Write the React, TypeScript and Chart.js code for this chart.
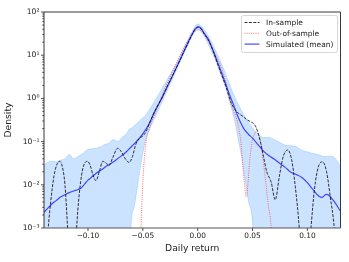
import React, { useEffect, useRef } from "react";
import { Chart, registerables } from "chart.js";

Chart.register(...registerables);

const FAMILY = "'DejaVu Sans', sans-serif";

// Simulated (mean) density
const simX = [
  -0.141, -0.137, -0.133, -0.129, -0.125, -0.121, -0.117, -0.113, -0.109, -0.106,
  -0.103, -0.1, -0.096, -0.092, -0.088, -0.084, -0.08, -0.076, -0.072, -0.068,
  -0.064, -0.06, -0.056, -0.052, -0.048, -0.045, -0.0425, -0.04, -0.036, -0.032,
  -0.028, -0.024, -0.02, -0.016, -0.012, -0.008, -0.005, -0.0025, 0.0005, 0.003,
  0.006, 0.0103, 0.014, 0.018, 0.022, 0.026, 0.03, 0.033, 0.036, 0.039,
  0.042, 0.046, 0.05, 0.055, 0.06, 0.065, 0.07, 0.075, 0.08, 0.085,
  0.09, 0.095, 0.1, 0.105, 0.11, 0.1135, 0.117, 0.12, 0.125, 0.13,
];
const simY = [
  0.0022, 0.0028, 0.0036, 0.0043, 0.0052, 0.0059, 0.0066, 0.0072, 0.0078, 0.0085,
  0.0105, 0.0128, 0.0155, 0.019, 0.022, 0.026, 0.03, 0.035, 0.042, 0.05,
  0.062, 0.078, 0.1, 0.13, 0.18, 0.24, 0.32, 0.45, 0.7, 1.1,
  1.8, 2.9, 4.8, 7.9, 13.2, 21.5, 31, 40, 46, 42,
  32, 22, 13, 7, 3.8, 2.0, 1.05, 0.68, 0.42, 0.28,
  0.2, 0.15, 0.12, 0.085, 0.06, 0.047, 0.039, 0.031, 0.025, 0.0195,
  0.0172, 0.0148, 0.0112, 0.0078, 0.0056, 0.0051, 0.006, 0.0056, 0.0039, 0.0025,
];

// In-sample density
const inX = [
  -0.141, -0.139, -0.1365, -0.134, -0.131, -0.128, -0.126, -0.1235, -0.121, -0.1186,
  -0.1165, -0.1145, -0.1125, -0.1104, -0.108, -0.105, -0.1025, -0.1004, -0.098, -0.0955,
  -0.0927, -0.0895, -0.0865, -0.0835, -0.081, -0.0775, -0.073, -0.0695, -0.066, -0.0625,
  -0.0595, -0.0565, -0.053, -0.05, -0.047, -0.0441, -0.04, -0.036, -0.032, -0.028,
  -0.024, -0.02, -0.016, -0.012, -0.008, -0.005, -0.0025, 0.0005, 0.003, 0.006,
  0.0103, 0.014, 0.018, 0.022, 0.026, 0.03, 0.033, 0.036, 0.039, 0.042,
  0.045, 0.048, 0.051, 0.053, 0.055, 0.0575, 0.06, 0.063, 0.067, 0.0707,
  0.0745, 0.078, 0.082, 0.0855, 0.089, 0.0926, 0.095, 0.098, 0.1005, 0.1033,
  0.1065, 0.11, 0.1139, 0.1175, 0.121, 0.1245, 0.127, 0.13,
];
const inY = [
  0.00001, 0.00006, 0.0008, 0.004, 0.016, 0.031, 0.035, 0.027, 0.01, 0.001,
  0.0001, 0.00001, 0.0001, 0.001, 0.006, 0.022, 0.033, 0.035, 0.028, 0.017,
  0.0125, 0.021, 0.035, 0.032, 0.028, 0.042, 0.07, 0.058, 0.04, 0.033,
  0.045, 0.085, 0.12, 0.135, 0.17, 0.26, 0.45, 0.72, 1.1, 1.85,
  3.0, 4.8, 7.8, 13, 21, 30, 39, 44, 41, 31,
  21, 12.5, 6.5, 3.4, 1.8, 0.85, 0.6, 0.48, 0.42, 0.37,
  0.32, 0.29, 0.26, 0.22, 0.16, 0.09, 0.045, 0.02, 0.0115, 0.0045,
  0.016, 0.045, 0.064, 0.04, 0.009, 0.001, 0.0001, 0.00001, 0.0001, 0.001,
  0.008, 0.026, 0.034, 0.02, 0.005, 0.001, 0.0001, 0.00001,
];

// Out-of-sample density
const outX = [
  -0.056, -0.0535, -0.0517, -0.0505, -0.049, -0.047, -0.0441, -0.0396, -0.035, -0.03,
  -0.025, -0.0213, -0.017, -0.0122, -0.008, -0.004, 0.001, 0.005, 0.0085, 0.0118,
  0.017, 0.0224, 0.026, 0.03, 0.033, 0.036, 0.038, 0.0397, 0.041, 0.0422,
  0.0443, 0.046, 0.0473, 0.049, 0.0504, 0.0525, 0.0543, 0.056, 0.058, 0.061,
  0.064, 0.067, 0.069, 0.071,
];
const outY = [
  0.00001, 0.0001, 0.001, 0.006, 0.03, 0.1, 0.2, 0.4, 0.78, 1.7,
  3.2, 5.2, 8.8, 15.7, 24, 33, 38, 34, 24, 16.5,
  9.5, 4.5, 2.2, 0.8, 0.5, 0.3, 0.17, 0.083, 0.03, 0.014,
  0.0052, 0.012, 0.034, 0.08, 0.12, 0.16, 0.17, 0.14, 0.083, 0.02,
  0.0041, 0.001, 0.0001, 0.00001,
];

// Simulated band (bounds)
const bandX = [
  -0.141, -0.137, -0.133, -0.129, -0.125, -0.121, -0.117, -0.113, -0.109, -0.105,
  -0.101, -0.097, -0.093, -0.089, -0.085, -0.081, -0.077, -0.073, -0.069, -0.065,
  -0.0625, -0.0608, -0.058, -0.055, -0.051, -0.047, -0.044, -0.04, -0.035, -0.03,
  -0.025, -0.02, -0.015, -0.01, -0.005, 0, 0.005, 0.01, 0.015, 0.02,
  0.025, 0.03, 0.034, 0.037, 0.04, 0.043, 0.047, 0.0505, 0.052, 0.055,
  0.06, 0.065, 0.07, 0.075, 0.08, 0.085, 0.09, 0.095, 0.1, 0.105,
  0.11, 0.115, 0.12, 0.125, 0.13,
];
const bandUpper = [
  0.027, 0.033, 0.035, 0.034, 0.037, 0.04, 0.05, 0.04, 0.046, 0.052,
  0.064, 0.068, 0.07, 0.075, 0.085, 0.092, 0.112, 0.1, 0.125, 0.15,
  0.19, 0.2, 0.23, 0.27, 0.34, 0.42, 0.55, 0.8, 1.3, 2.2,
  3.6, 6, 11, 20, 35, 53, 42, 27, 15, 8,
  4, 1.8, 1.05, 0.72, 0.52, 0.38, 0.26, 0.2, 0.18, 0.15,
  0.125, 0.125, 0.11, 0.095, 0.082, 0.08, 0.076, 0.063, 0.058, 0.053,
  0.05, 0.045, 0.046, 0.042, 0.027,
];
const bandLower = [
  0.00001, 0.00001, 0.00001, 0.00001, 0.00001, 0.00001, 0.00001, 0.00001, 0.00001, 0.00001,
  0.00001, 0.00001, 0.00001, 0.00001, 0.00001, 0.00001, 0.00001, 0.00001, 0.00001, 0.00001,
  0.00001, 0.001, 0.003, 0.009, 0.04, 0.12, 0.19, 0.32, 0.6, 1.15,
  2.2, 4.2, 8, 15, 28, 40, 30, 17, 9, 4.2,
  1.9, 0.7, 0.28, 0.11, 0.045, 0.014, 0.0035, 0.0009, 0.00001, 0.00001,
  0.00001, 0.00001, 0.00001, 0.00001, 0.00001, 0.00001, 0.00001, 0.00001, 0.00001, 0.00001,
  0.00001, 0.00001, 0.00001, 0.00001, 0.00001,
];

const xTicks = [-0.1, -0.05, 0, 0.05, 0.1];
const xTickLabels = ["\u22120.10", "\u22120.05", "0.00", "0.05", "0.10"];
const yTicks = [0.001, 0.01, 0.1, 1, 10, 100];
const yTickLabels = ["10\u207B\u00B3", "10\u207B\u00B2", "10\u207B\u00B9", "10\u2070", "10\u00B9", "10\u00B2"];
const legendLabels = ["In-sample", "Out-of-sample", "Simulated (mean)"];

const pts = (xs: number[], ys: number[]) => xs.map((x, i) => ({ x, y: ys[i] }));

const labelFor = (vals: number[], labels: string[], v: number) => {
  let best = 0;
  for (let i = 1; i < vals.length; i++) {
    if (Math.abs(vals[i] - v) < Math.abs(vals[best] - v)) best = i;
  }
  return labels[best];
};

const decorPlugin = {
  id: "decor",
  afterDraw(chart: any) {
    const { ctx, chartArea: a, scales } = chart;
    const xs = scales.x;
    const ys = scales.y;
    ctx.save();
    // tick marks
    ctx.strokeStyle = "#222";
    ctx.lineWidth = 0.8;
    ctx.beginPath();
    for (let d = -3; d <= 2; d++) {
      for (let m = 1; m <= 9; m++) {
        const v = m * Math.pow(10, d);
        if (v > 100.0001) continue;
        const py = ys.getPixelForValue(v);
        const len = m === 1 ? 3 : 1.7;
        ctx.moveTo(a.left, py);
        ctx.lineTo(a.left - len, py);
      }
    }
    xTicks.forEach((v) => {
      const px = xs.getPixelForValue(v);
      ctx.moveTo(px, a.bottom);
      ctx.lineTo(px, a.bottom + 3);
    });
    ctx.stroke();
    // spines
    ctx.lineWidth = 0.9;
    ctx.strokeStyle = "#222";
    ctx.beginPath();
    ctx.moveTo(a.left, a.bottom);
    ctx.lineTo(a.left, a.top);
    ctx.lineTo(a.right, a.top);
    ctx.lineTo(a.right, a.bottom);
    ctx.stroke();
    ctx.strokeStyle = "#555";
    ctx.lineWidth = 1.2;
    ctx.beginPath();
    ctx.moveTo(a.left, a.bottom);
    ctx.lineTo(a.right, a.bottom);
    ctx.stroke();

    // legend
    const bw = 96;
    const bh = 37;
    const bx = a.right - 3 - bw;
    const by = a.top + 3.5;
    ctx.beginPath();
    if (ctx.roundRect) ctx.roundRect(bx, by, bw, bh, 2);
    else ctx.rect(bx, by, bw, bh);
    ctx.fillStyle = "rgba(255,255,255,0.85)";
    ctx.fill();
    ctx.strokeStyle = "#cccccc";
    ctx.lineWidth = 0.8;
    ctx.stroke();
    ctx.font = `7.5px ${FAMILY}`;
    ctx.textBaseline = "middle";
    ctx.textAlign = "left";
    legendLabels.forEach((lab, i) => {
      const ds = chart.data.datasets.find((d: any) => d.label === lab);
      const y = by + 7 + i * 10.8;
      ctx.save();
      ctx.strokeStyle = ds.borderColor;
      ctx.lineWidth = ds.borderWidth;
      ctx.setLineDash(ds.borderDash || []);
      ctx.beginPath();
      ctx.moveTo(bx + 3, y);
      ctx.lineTo(bx + 18, y);
      ctx.stroke();
      ctx.restore();
      ctx.fillStyle = "#222";
      ctx.fillText(lab, bx + 24.5, y + 0.5);
    });
    ctx.restore();
  },
};

export default function App() {
  const ref = useRef<HTMLCanvasElement>(null);
  useEffect(() => {
    const canvas = ref.current;
    if (!canvas) return;
    const chart = new Chart(canvas, {
      type: "line",
      data: {
        datasets: [
          {
            label: legendLabels[0],
            data: pts(inX, inY),
            borderColor: "rgba(0,0,0,0.8)",
            borderWidth: 1,
            borderDash: [3, 1.4],
            fill: false,
            order: 0,
          },
          {
            label: legendLabels[2],
            data: pts(simX, simY),
            borderColor: "rgba(30,30,255,0.8)",
            borderWidth: 1.2,
            fill: false,
            order: 1,
          },
          {
            label: legendLabels[1],
            data: pts(outX, outY),
            borderColor: "rgba(255,50,50,0.7)",
            borderWidth: 1,
            borderDash: [1, 1.2],
            fill: false,
            order: 2,
          },
          {
            label: "band-upper",
            data: pts(bandX, bandUpper),
            borderColor: "rgba(100,170,255,0.45)",
            borderWidth: 0.7,
            backgroundColor: "rgba(100,170,255,0.33)",
            fill: "+1",
            order: 3,
          },
          {
            label: "band-lower",
            data: pts(bandX, bandLower),
            borderColor: "rgba(100,170,255,0.45)",
            borderWidth: 0.7,
            fill: false,
            order: 4,
          },
        ],
      },
      options: {
        animation: false,
        responsive: false,
        devicePixelRatio: 1,
        layout: { padding: { left: 0, top: 12, right: 8.5, bottom: 0 } },
        elements: {
          point: { radius: 0, hoverRadius: 0 },
          line: { cubicInterpolationMode: "monotone" },
        },
        plugins: {
          legend: { display: false },
          tooltip: { enabled: false },
        },
        events: [],
        scales: {
          x: {
            type: "linear",
            min: -0.1401,
            max: 0.1302,
            afterBuildTicks: (s: any) => {
              s.ticks = xTicks.map((v) => ({ value: v }));
            },
            afterFit: (s: any) => {
              s.height = 34;
            },
            grid: { display: false, drawTicks: false },
            border: { display: false },
            ticks: {
              autoSkip: false,
              maxRotation: 0,
              padding: 3.5,
              color: "#222",
              font: { family: FAMILY, size: 7.4 },
              callback: (v: any) => labelFor(xTicks, xTickLabels, Number(v)),
            },
            title: {
              display: true,
              text: "Daily return",
              color: "#222",
              font: { family: FAMILY, size: 9.2 },
              padding: { top: 0, bottom: 7.5 },
            },
          },
          y: {
            type: "logarithmic",
            min: 0.001,
            max: 100,
            afterBuildTicks: (s: any) => {
              s.ticks = yTicks.map((v) => ({ value: v }));
            },
            afterFit: (s: any) => {
              s.width = 44;
            },
            grid: { display: false, drawTicks: false },
            border: { display: false },
            ticks: {
              autoSkip: false,
              padding: 4.5,
              color: "#222",
              font: { family: FAMILY, size: 7.6 },
              callback: (v: any) => labelFor(yTicks, yTickLabels, Number(v)),
            },
            title: {
              display: true,
              text: "Density",
              color: "#222",
              font: { family: FAMILY, size: 9.2 },
              padding: { top: 3, bottom: 0 },
            },
          },
        },
      },
      plugins: [decorPlugin],
    } as any);
    return () => chart.destroy();
  }, []);

  return (
    <div style={{ position: "fixed", left: 0, top: 0, width: 349, height: 262, background: "#fff" }}>
      <canvas ref={ref} width={349} height={262} style={{ display: "block", width: 349, height: 262 }} />
    </div>
  );
}
